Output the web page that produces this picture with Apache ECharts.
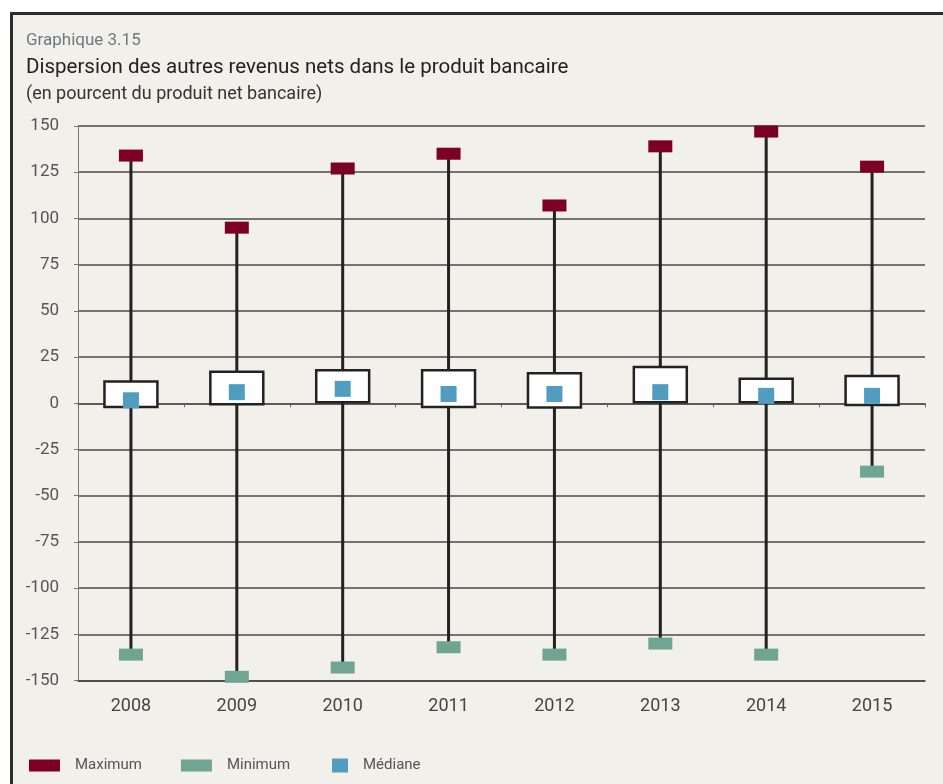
<!DOCTYPE html>
<html>
<head>
<meta charset="utf-8">
<title>Graphique 3.15</title>
<script src="https://cdn.jsdelivr.net/npm/echarts@6/dist/echarts.min.js"></script>
<style>
  html, body { margin: 0; padding: 0; background: #ffffff; }
  .frame {
    position: absolute; left: 10px; top: 12px; width: 1000px; height: 1000px;
    border-left: 3px solid #2e2e2e; border-top: 3px solid #2e2e2e;
    background: #f2f0ea;
  }
  #chart { position: absolute; left: 0; top: 0; width: 943px; height: 784px; }
</style>
</head>
<body>
<div class="frame"></div>
<div id="chart"></div>
<script>
// données
var years = ["2008", "2009", "2010", "2011", "2012", "2013", "2014", "2015"];
var maxVals = [134, 95, 127, 135, 107, 139, 147, 128];
var minVals = [-136, -148, -143, -132, -136, -130, -136, -37];
var q1Vals = [-2, -0.5, 0.5, -2, -2.3, 0.5, 0.5, -1];
var q3Vals = [11.7, 17, 17.8, 17.8, 16.2, 19.6, 13.3, 14.8];
var medianVals = [1.6, 6, 7.8, 5, 5, 6, 4, 4];
var yTicks = { min: -150, max: 150, interval: 25 };

var font = "Roboto";
var chart = echarts.init(document.getElementById("chart"));

// boîte (Q1-Q3) + moustache (min-max)
var boxData = years.map(function (y, i) {
  return [i, minVals[i], q1Vals[i], q3Vals[i], maxVals[i]];
});

function renderBox(params, api) {
  var i = api.value(0);
  var pMin = api.coord([i, api.value(1)]);
  var pQ1 = api.coord([i, api.value(2)]);
  var pQ3 = api.coord([i, api.value(3)]);
  var pMax = api.coord([i, api.value(4)]);
  var w = api.size([1, 0])[0] * 0.5;
  return {
    type: "group",
    children: [
      {
        type: "line",
        shape: { x1: pMin[0], y1: pMin[1], x2: pMax[0], y2: pMax[1] },
        style: { stroke: "#222", lineWidth: 3 }
      },
      {
        type: "rect",
        shape: { x: pQ3[0] - w / 2, y: pQ3[1], width: w, height: pQ1[1] - pQ3[1] },
        style: { fill: "#ffffff", stroke: "#222", lineWidth: 2.5 }
      }
    ]
  };
}

chart.setOption({
  animation: false,
  textStyle: { fontFamily: font },
  title: [
    { text: "Graphique 3.15", left: 26, top: 32, padding: 0,
      textStyle: { fontFamily: font, fontSize: 17, fontWeight: "normal", color: "#6c7a80" } },
    { text: "Dispersion des autres revenus nets dans le produit bancaire", left: 26, top: 57, padding: 0,
      textStyle: { fontFamily: font, fontSize: 20.5, fontWeight: "normal", color: "#222" } },
    { text: "(en pourcent du produit net bancaire)", left: 26, top: 85, padding: 0,
      textStyle: { fontFamily: font, fontSize: 18, fontWeight: "normal", color: "#333" } }
  ],
  legend: [
    {
      left: 29, top: 758, padding: 0, itemWidth: 31, itemHeight: 12, itemGap: 39, icon: "rect",
      data: ["Maximum", "Minimum"],
      textStyle: { fontFamily: font, fontSize: 15, color: "#555", padding: [0, 0, 0, 10] }
    },
    {
      left: 332, top: 758, padding: 0, itemWidth: 16, itemHeight: 14, icon: "rect",
      data: ["Médiane"],
      textStyle: { fontFamily: font, fontSize: 15, color: "#555", padding: [0, 0, 0, 10] }
    }
  ],
  grid: { left: 78, right: 18, top: 126, bottom: 103.5 },
  xAxis: [
    {
      type: "category", data: years, position: "bottom",
      axisLine: { onZero: false, lineStyle: { color: "#444", width: 1.5 } },
      axisTick: { show: false },
      axisLabel: { fontFamily: font, fontSize: 18, color: "#444", margin: 17 }
    },
    {
      type: "category", data: years, position: "bottom",
      axisLine: { onZero: true, lineStyle: { color: "#555", width: 1.5 } },
      axisTick: { show: true, length: 4, lineStyle: { color: "#666" } },
      axisLabel: { show: false }
    }
  ],
  yAxis: {
    type: "value", min: yTicks.min, max: yTicks.max, interval: yTicks.interval,
    axisLine: { show: true, lineStyle: { color: "#777", width: 1 } },
    axisTick: { show: true, length: 4, lineStyle: { color: "#777" } },
    axisLabel: { fontFamily: font, fontSize: 17, color: "#555", margin: 19 },
    splitLine: { lineStyle: { color: "#4a4a4a", width: 1.5 } }
  },
  series: [
    {
      type: "custom", name: "boite", renderItem: renderBox, data: boxData,
      encode: { x: 0, y: [1, 2, 3, 4] }, z: 2
    },
    {
      type: "scatter", name: "Maximum", data: maxVals, symbol: "rect",
      symbolSize: [24, 12], itemStyle: { color: "#7d0024", opacity: 1 }, z: 4
    },
    {
      type: "scatter", name: "Minimum", data: minVals, symbol: "rect",
      symbolSize: [24, 12], itemStyle: { color: "#6fa592", opacity: 1 }, z: 4
    },
    {
      type: "scatter", name: "Médiane", data: medianVals, symbol: "rect",
      symbolSize: [16, 16], itemStyle: { color: "#509dbf", opacity: 1 }, z: 4
    }
  ]
});
</script>
</body>
</html>
